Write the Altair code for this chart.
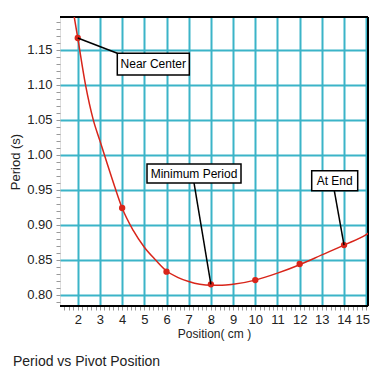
import altair as alt
import pandas as pd

# measured points
pos = [2, 4, 6, 8, 10, 12, 14]
period = [1.167, 0.924, 0.833, 0.815, 0.821, 0.844, 0.871]

# fitted curve
curve_x = [1.8, 2.0, 2.35, 2.7, 3.0, 3.3, 3.67, 4.0, 4.5, 5.0, 5.5, 6.0, 6.5, 7.0,
           7.5, 8.0, 8.5, 9.0, 10.0, 11.0, 12.0, 13.0, 14.0, 15.0, 15.1]
curve_y = [1.205, 1.167, 1.100, 1.050, 1.020, 0.990, 0.954, 0.924, 0.892, 0.868,
           0.850, 0.834, 0.825, 0.819, 0.815, 0.8135, 0.8135, 0.815, 0.821, 0.831,
           0.843, 0.857, 0.871, 0.886, 0.888]

x_ticks = list(range(2, 16))
y_ticks = [0.80, 0.85, 0.90, 0.95, 1.00, 1.05, 1.10, 1.15]
x_minor = [round(1.4 + 0.2 * i, 1) for i in range(69)]
y_minor = [round(0.79 + 0.01 * i, 2) for i in range(41)]

# annotations
ann_text = ["Near Center", "Minimum Period", "At End"]
ann_px = [2, 8, 14]
ann_py = [1.167, 0.815, 0.871]
box_x1 = [3.782, 5.121, 12.543]
box_x2 = [7.027, 9.357, 14.616]
box_y1 = [1.1451, 0.9869, 0.9774]
box_y2 = [1.1141, 0.9598, 0.9488]
lead_x = [3.782, 7.239, 13.561]
lead_y = [1.1451, 0.9598, 0.9488]

XD = [1.2, 15.08]
YD = [0.784, 1.197]
GRID = "#3bb4c8"
RED = "#d8251a"
W, H = 308, 289

pts = pd.DataFrame({"x": pos, "y": period})
crv = pd.DataFrame({"x": curve_x, "y": curve_y})
ann = pd.DataFrame({"text": ann_text, "px": ann_px, "py": ann_py,
                    "bx1": box_x1, "bx2": box_x2, "by1": box_y1, "by2": box_y2,
                    "lx": lead_x, "ly": lead_y})
ann["cx"] = (ann["bx1"] + ann["bx2"]) / 2
ann["cy"] = (ann["by1"] + ann["by2"]) / 2

xs = alt.Scale(domain=XD, nice=False, zero=False)
ys = alt.Scale(domain=YD, nice=False, zero=False)

main_x_axis = alt.Axis(values=x_ticks, grid=True, gridColor=GRID, gridWidth=2,
                       domain=False, ticks=False, labelPadding=7, labelFontSize=13,
                       labelColor="#222", labelFont="Liberation Sans",
                       labelOffset=alt.ExprRef(expr="datum.value >= 15 ? -4 : 0"),
                       title="Position( cm )", titleFontSize=12, titleFontWeight="normal",
                       titleFont="Liberation Sans", titleColor="#222", titlePadding=2,
                       orient="bottom", labelFlush=False)
main_y_axis = alt.Axis(values=y_ticks, format=".2f", grid=True, gridColor=GRID, gridWidth=2,
                       domain=False, ticks=False, labelPadding=8, labelFontSize=13,
                       labelColor="#222", labelFont="Liberation Sans",
                       title="Period (s)", titleFontSize=13, titleFontWeight="normal",
                       titleFont="Liberation Sans", titleColor="#222", titlePadding=4,
                       orient="left")

grid_layer = alt.Chart(crv).mark_line(opacity=0).encode(
    x=alt.X("x:Q", scale=xs, axis=main_x_axis),
    y=alt.Y("y:Q", scale=ys, axis=main_y_axis),
)

minor_layer = alt.Chart(crv).mark_point(opacity=0).encode(
    x=alt.X("x:Q", scale=xs, axis=alt.Axis(values=x_minor, orient="bottom", labels=False,
                                            domain=False, grid=False, tickSize=4,
                                            tickColor="#999", tickWidth=1, title=None)),
    y=alt.Y("y:Q", scale=ys, axis=alt.Axis(values=y_minor, orient="left", labels=False,
                                            domain=False, grid=False, tickSize=4,
                                            tickColor="#999", tickWidth=1, title=None)),
)

frame_top = alt.Chart(crv).mark_rule(color="black", strokeWidth=2).encode(
    x=alt.value(0), x2=alt.value(W), y=alt.value(0))
frame_bottom = alt.Chart(crv).mark_rule(color="black", strokeWidth=2).encode(
    x=alt.value(0), x2=alt.value(W), y=alt.value(H))
frame_right = alt.Chart(crv).mark_rule(color="black", strokeWidth=1.5).encode(
    x=alt.value(W), y=alt.value(0), y2=alt.value(H))

line = alt.Chart(crv).mark_line(color=RED, strokeWidth=1.5, interpolate="monotone",
                                clip=True).encode(
    x=alt.X("x:Q", scale=xs, axis=None), y=alt.Y("y:Q", scale=ys, axis=None))

dots = alt.Chart(pts).mark_circle(color=RED, size=40, opacity=1).encode(
    x=alt.X("x:Q", scale=xs, axis=None), y=alt.Y("y:Q", scale=ys, axis=None))

leaders = alt.Chart(ann).mark_rule(color="black", strokeWidth=1.5).encode(
    x=alt.X("px:Q", scale=xs, axis=None), y=alt.Y("py:Q", scale=ys, axis=None),
    x2="lx:Q", y2="ly:Q")

boxes = alt.Chart(ann).mark_rect(fill="white", stroke="black", strokeWidth=1.5).encode(
    x=alt.X("bx1:Q", scale=xs, axis=None), x2="bx2:Q",
    y=alt.Y("by1:Q", scale=ys, axis=None), y2="by2:Q")

labels = alt.Chart(ann).mark_text(fontSize=12, font="Liberation Sans", color="black",
                                  baseline="middle", align="center").encode(
    x=alt.X("cx:Q", scale=xs, axis=None), y=alt.Y("cy:Q", scale=ys, axis=None),
    text="text:N")

caption = alt.Chart(pd.DataFrame({"t": ["Period vs Pivot Position"]})).mark_text(
    fontSize=14, font="Liberation Sans", color="#222", align="left", baseline="middle"
).encode(x=alt.value(-47), y=alt.value(345), text="t:N")

chart = alt.layer(
    grid_layer, minor_layer, frame_top, frame_bottom, frame_right,
    line, dots, leaders, boxes, labels, caption
).resolve_axis(x="independent", y="independent").properties(
    width=W, height=H,
    autosize=alt.AutoSizeParams(type="none"),
    padding={"left": 52, "top": 9, "right": 4, "bottom": 66},
).configure_view(stroke=None).configure(background="white")

chart.save("out.html", embed_options={"renderer": "svg", "actions": False})
